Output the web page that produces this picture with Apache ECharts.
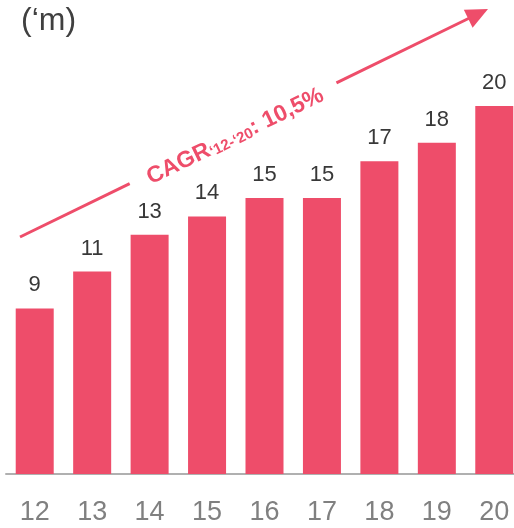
<!DOCTYPE html>
<html>
<head>
<meta charset="utf-8">
<script src="https://cdn.jsdelivr.net/npm/echarts@6/dist/echarts.min.js"></script>
<style>
  html, body { margin: 0; padding: 0; background: #fff; }
  #chart { width: 514px; height: 528px; }
</style>
</head>
<body>
<div id="chart"></div>
<script>
const years = ["12", "13", "14", "15", "16", "17", "18", "19", "20"];
const values = [9, 11, 13, 14, 15, 15, 17, 18, 20];
const unitLabel = "(‘m)";
const cagrLabel = "10,5%";

const pink = "#EE4D6A";
const chart = echarts.init(document.getElementById("chart"));

// arrow geometry (annotation, not data)
const start = [20, 237], tip = [488, 9];
const dx = tip[0] - start[0], dy = tip[1] - start[1];
const len = Math.sqrt(dx * dx + dy * dy);
const ux = dx / len, uy = dy / len;
const px = -uy, py = ux;
const headLen = 22, headHalf = 10;
const base = [tip[0] - ux * headLen, tip[1] - uy * headLen];
const at = t => [start[0] + ux * t, start[1] + uy * t];
const angle = Math.atan2(-dy, dx);

chart.setOption({
    animation: false,
    grid: { left: 6, top: 14, bottom: 54, width: 517, outerBoundsMode: "none", containLabel: false },
    xAxis: {
        type: "category",
        data: years,
        axisLine: { lineStyle: { color: "#b0b0b0", width: 2 } },
        axisTick: { show: false },
        axisLabel: { color: "#808080", fontSize: 27, margin: 25, fontFamily: "Liberation Sans" },
    },
    yAxis: { type: "value", min: 0, max: 25, show: false, splitLine: { show: false } },
    series: [{
        type: "bar",
        data: values,
        barWidth: 38,
        itemStyle: { color: pink },
        label: {
            show: true,
            position: "top",
            distance: 12,
            color: "#383838",
            fontSize: 22,
            fontFamily: "Liberation Sans",
        },
    }],
    graphic: [
        {
            type: "text",
            left: 21, top: 5,
            style: { text: unitLabel, fontSize: 32, fill: "#404040", fontFamily: "Liberation Sans" },
        },
        {
            type: "line",
            shape: { x1: start[0], y1: start[1], x2: at(122)[0], y2: at(122)[1] },
            style: { stroke: pink, lineWidth: 3 },
        },
        {
            type: "line",
            shape: { x1: at(352)[0], y1: at(352)[1], x2: base[0] + ux * 2, y2: base[1] + uy * 2 },
            style: { stroke: pink, lineWidth: 3 },
        },
        {
            type: "polygon",
            shape: { points: [tip, [base[0] + px * headHalf, base[1] + py * headHalf], [base[0] - px * headHalf, base[1] - py * headHalf]] },
            style: { fill: pink },
        },
        {
            type: "text",
            x: 235, y: 136,
            rotation: angle,
            style: {
                text: "{b|CAGR}{s|‘12-‘20}{b|: " + cagrLabel + "}",
                align: "center",
                verticalAlign: "middle",
                rich: {
                    b: { fontSize: 23, fontWeight: "bold", fill: pink, fontFamily: "Liberation Sans", verticalAlign: "bottom" },
                    s: { fontSize: 15, fontWeight: "bold", fill: pink, fontFamily: "Liberation Sans", padding: [9, 0, 0, 0] },
                },
            },
        },
    ],
});
</script>
</body>
</html>
